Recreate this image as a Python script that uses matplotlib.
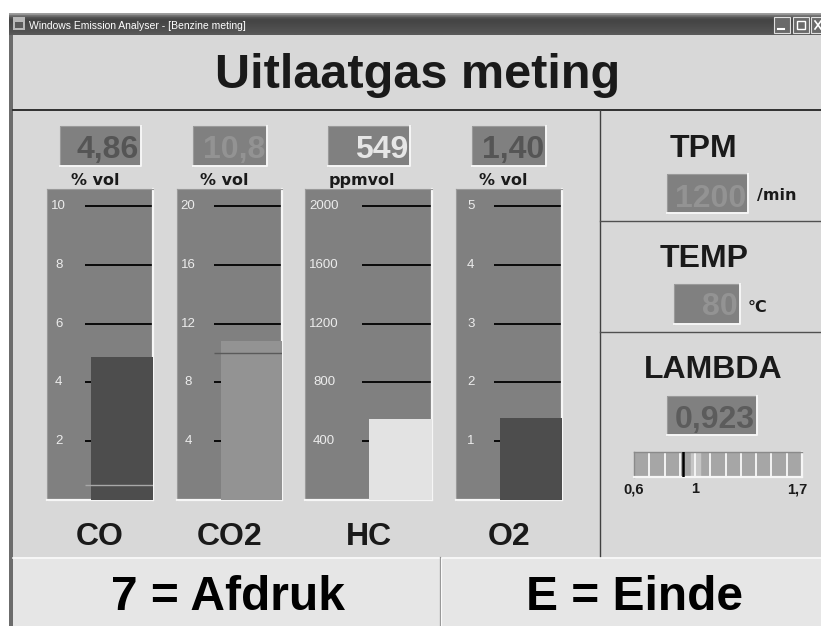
import matplotlib
matplotlib.use('Agg')
import matplotlib.pyplot as plt
from matplotlib.patches import Rectangle
import numpy as np

plt.rcParams['font.family'] = ['Liberation Sans', 'DejaVu Sans']

W, H = 821, 626

# gas gauges
gases = ['CO', 'CO2', 'HC', 'O2']
units = ['% vol', '% vol', 'ppmvol', '% vol']
values = [4.86, 10.8, 549, 1.40]
readouts = ['4,86', '10,8', '549', '1,40']
scale_ticks = [[2, 4, 6, 8, 10],
               [4, 8, 12, 16, 20],
               [400, 800, 1200, 1600, 2000],
               [1, 2, 3, 4, 5]]
limit_marks = [0.5, 10.0, None, None]

# right hand panel
rpm = 1200
temp = 80
lam = 0.923
lam_readout = '0,923'
lam_scale = [0.6, 1.7]
lam_labels = ['0,6', '1', '1,7']
lam_label_pos = [0.6, 1.0, 1.7]
lam_window = [0.97, 1.03]

bar_colors = ['#4d4d4d', '#939393', '#e3e3e3', '#4d4d4d']
txt_colors = ['#555555', '#939393', '#e6e6e6', '#555555']

fig = plt.figure(figsize=(W / 100, H / 100), dpi=100)
fig.patch.set_facecolor('white')
bg = fig.add_axes([0, 0, 1, 1])
bg.set_xlim(0, W)
bg.set_ylim(H, 0)
bg.axis('off')


def px_axes(x0, y0, x1, y1):
    a = fig.add_axes([x0 / W, 1 - y1 / H, (x1 - x0) / W, (y1 - y0) / H])
    return a


def rect(x0, y0, x1, y1, fc, z=1):
    bg.add_patch(Rectangle((x0, y0), x1 - x0, y1 - y0, fc=fc, ec='none', zorder=z))


def sunken(x0, y0, x1, y1, fc='#808080', z=3):
    rect(x0, y0, x1, y1, fc, z)
    bg.plot([x0, x0, x1], [y1, y0, y0], color='#9a9a9a', lw=0.8, zorder=z + 0.1)
    bg.plot([x0, x1, x1], [y1, y1, y0], color='#f6f6f6', lw=1.4, zorder=z + 0.1)


def readout(x0, y0, x1, y1, s, color, base):
    sunken(x0, y0, x1, y1)
    bg.text(x1 - 2, base, s, ha='right', va='baseline', fontsize=23,
            fontweight='bold', color=color, zorder=5)


# window frame, title bar
rect(9, 13, W, H, '#6c6c6c', 0.5)
rect(13, 35, W, H, '#d8d8d8', 1)
grad = np.array([0.62, 0.45, 0.33, 0.28, 0.27, 0.28, 0.29, 0.30, 0.31, 0.32, 0.33, 0.35]).reshape(-1, 1)
bg.imshow(grad, extent=(9, W, 35, 13), cmap='gray', vmin=0, vmax=1, aspect='auto', zorder=1)
bg.set_xlim(0, W)
bg.set_ylim(H, 0)
rect(13, 17, 25, 30, '#b8b8b8', 2)
rect(15, 22, 23, 28, '#5a5a5a', 2.1)
bg.text(29, 29, 'Windows Emission Analyser - [Benzine meting]', fontsize=7.5,
        color='white', va='baseline', ha='left', zorder=2)
for bx in [774, 793, 811]:
    bg.add_patch(Rectangle((bx, 17), 16, 16, fc='#6a6a6a', ec='#e0e0e0', lw=0.8, zorder=2))
bg.plot([778, 784], [29, 29], color='white', lw=1.5, zorder=3)
bg.add_patch(Rectangle((797, 21), 8, 8, fc='none', ec='white', lw=1, zorder=3))
bg.plot([815, 821], [21, 29], color='white', lw=1.2, zorder=3)
bg.plot([815, 821], [29, 21], color='white', lw=1.2, zorder=3)

# header and separators
bg.text(418, 88, 'Uitlaatgas meting', ha='center', va='baseline', fontsize=35,
        fontweight='bold', color='#1a1a1a', zorder=2)
bg.plot([13, W], [110, 110], color='#303030', lw=1.4, zorder=2)
bg.plot([600, 600], [110, 557], color='#404040', lw=1.0, zorder=2)
bg.plot([600, W], [221, 221], color='#505050', lw=1.0, zorder=2)
bg.plot([600, W], [332, 332], color='#505050', lw=1.0, zorder=2)

# bottom buttons
rect(13, 557, W, H, '#e6e6e6', 1.5)
bg.plot([13, W], [557.5, 557.5], color='#fafafa', lw=1.2, zorder=2)
bg.plot([439.5, 439.5], [557, H], color='#8c8c8c', lw=0.9, zorder=2)
bg.plot([441, 441], [558, H], color='#fafafa', lw=0.9, zorder=2)
bg.text(228, 610, '7 = Afdruk', ha='center', va='baseline', fontsize=34.5,
        fontweight='bold', color='black', zorder=2)
bg.text(634, 610, 'E = Einde', ha='center', va='baseline', fontsize=34.5,
        fontweight='bold', color='black', zorder=2)

# gauges
gauge_px = [(47, 189, 153, 500), (177, 189, 282, 500), (305, 189, 432, 500), (456, 189, 562, 500)]
box_px = [(60, 126, 141, 166), (193, 126, 267, 166), (328, 126, 410, 166), (472, 126, 546, 166)]
unit_x = [95, 224, 362, 503]
bar_left = [0.415, 0.42, 0.50, 0.415]
tick_left = [0.36, 0.35, 0.45, 0.36]
lab_x = [0.11, 0.105, 0.15, 0.14]
limit_colors = ['#a8a8a8', '#5a5a5a', None, None]

for i, gas in enumerate(gases):
    x0, y0, x1, y1 = gauge_px[i]
    ga = px_axes(x0, y0, x1, y1)
    top = scale_ticks[i][-1] * (y1 - y0) / 294.0
    ga.set_xlim(0, 1)
    ga.set_ylim(0, top)
    ga.set_facecolor('#808080')
    ga.set_xticks([])
    ga.set_yticks([])
    for side in ['left', 'top']:
        ga.spines[side].set_color('#9a9a9a')
        ga.spines[side].set_linewidth(0.8)
    for side in ['right', 'bottom']:
        ga.spines[side].set_color('#f6f6f6')
        ga.spines[side].set_linewidth(1.6)
    ga.hlines(scale_ticks[i], tick_left[i], 1, color='black', lw=1.3, zorder=2)
    for t in scale_ticks[i]:
        ga.text(lab_x[i], t, str(t), ha='center', va='center', fontsize=9.5,
                color='#ececec', zorder=2)
    ga.bar(bar_left[i], values[i], width=1 - bar_left[i], align='edge',
           color=bar_colors[i], zorder=3)
    if limit_marks[i] is not None:
        ga.hlines(limit_marks[i], tick_left[i], 1, color=limit_colors[i], lw=1.0, zorder=4)

    bx0, by0, bx1, by1 = box_px[i]
    readout(bx0, by0, bx1, by1, readouts[i], txt_colors[i], 158)
    bg.text(unit_x[i], 185, units[i], ha='center', va='baseline', fontsize=11.5,
            fontweight='bold', family='DejaVu Sans', color='#1a1a1a', zorder=2)
    bg.text((x0 + x1) / 2, 545, gas, ha='center', va='baseline', fontsize=23,
            fontweight='bold', color='#1a1a1a', zorder=2)

# TPM / TEMP / LAMBDA
bg.text(703, 157, 'TPM', ha='center', va='baseline', fontsize=23,
        fontweight='bold', color='#1a1a1a', zorder=2)
readout(667, 174, 748, 213, str(rpm), '#939393', 207)
bg.text(757, 200, '/min', ha='left', va='baseline', fontsize=11.5,
        fontweight='bold', family='DejaVu Sans', color='#1a1a1a', zorder=2)

bg.text(704, 267, 'TEMP', ha='center', va='baseline', fontsize=23,
        fontweight='bold', color='#1a1a1a', zorder=2)
readout(674, 284, 740, 324, str(temp), '#939393', 315)
bg.text(748, 312, '°C', ha='left', va='baseline', fontsize=11.5,
        fontweight='bold', family='DejaVu Sans', color='#1a1a1a', zorder=2)

bg.text(713, 378, 'LAMBDA', ha='center', va='baseline', fontsize=23,
        fontweight='bold', color='#1a1a1a', zorder=2)
readout(667, 396, 757, 435, lam_readout, '#5c5c5c', 428)

la = px_axes(634, 452, 802, 477)
la.set_xlim(*lam_scale)
la.set_ylim(0, 1)
la.set_facecolor('#a6a6a6')
la.set_xticks([])
la.set_yticks([])
for side in ['left', 'top']:
    la.spines[side].set_color('#8a8a8a')
    la.spines[side].set_linewidth(1.0)
for side in ['right', 'bottom']:
    la.spines[side].set_color('#f6f6f6')
    la.spines[side].set_linewidth(1.6)
la.axvspan(lam_window[0], lam_window[1], color='#c6c6c6', zorder=1)
steps = np.arange(lam_scale[0] + 0.1, lam_scale[1] - 0.05, 0.1)
la.vlines(steps, 0, 1, color='#f4f4f4', lw=1.4, zorder=2)
la.axvline(lam, color='black', lw=1.8, zorder=3)
for s, p in zip(lam_labels, lam_label_pos):
    x = p - 0.03 if p == lam_scale[1] else p
    la.text(x, -0.64, s, ha='center', va='baseline', fontsize=10.5,
            fontweight='bold', color='#1a1a1a', clip_on=False)

fig.savefig('out.png', dpi=100)
